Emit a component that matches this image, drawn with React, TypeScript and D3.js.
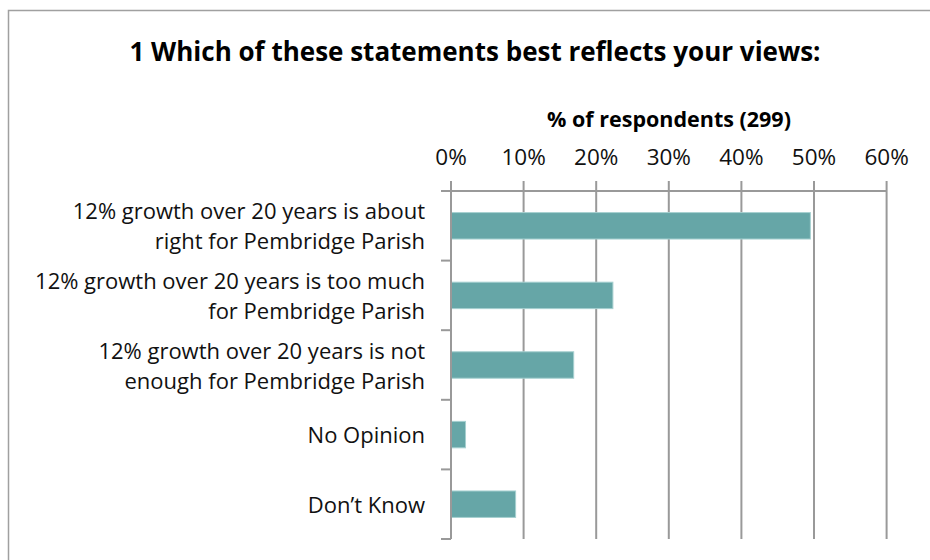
import * as d3 from "d3";
import { useRef, useEffect } from "react";

const categories = [
  ["12% growth over 20 years is about", "right for Pembridge Parish"],
  ["12% growth over 20 years is too much", "for Pembridge Parish"],
  ["12% growth over 20 years is not", "enough for Pembridge Parish"],
  ["No Opinion"],
  ["Don\u2019t Know"],
];
const values = [49.5, 22.3, 16.9, 2.0, 8.9];
const tickValues = [0, 10, 20, 30, 40, 50, 60];

const title = "1 Which of these statements best reflects your views:";
const axisTitle = "% of respondents (299)";

export default function App() {
  const svgRef = useRef();

  useEffect(() => {
    const font = "'Open Sans', sans-serif";
    const svg = d3.select(svgRef.current);
    svg.selectAll("*").remove();

    svg
      .append("rect")
      .attr("x", 8.5)
      .attr("y", 10.5)
      .attr("width", 940)
      .attr("height", 600)
      .attr("fill", "white")
      .attr("stroke", "#a0a0a0")
      .attr("stroke-width", 1.5);

    const left = 451;
    const right = 886.6;
    const top = 191;
    const bottom = 539;

    const x = d3.scaleLinear().domain([0, 60]).range([left, right]);
    const y = d3
      .scaleBand()
      .domain(d3.range(categories.length))
      .range([top, bottom])
      .paddingInner(0.62)
      .paddingOuter(0.31);
    const band = (bottom - top) / categories.length;

    svg
      .append("text")
      .attr("x", 475)
      .attr("y", 61)
      .attr("text-anchor", "middle")
      .attr("font-family", font)
      .attr("font-weight", "bold")
      .attr("font-size", 26)
      .text(title);

    svg
      .append("text")
      .attr("x", 669)
      .attr("y", 127)
      .attr("text-anchor", "middle")
      .attr("font-family", font)
      .attr("font-weight", "bold")
      .attr("font-size", 21.5)
      .text(axisTitle);

    // gridlines + top ticks
    svg
      .append("g")
      .selectAll("line")
      .data(tickValues)
      .enter()
      .append("line")
      .attr("x1", (d) => x(d))
      .attr("x2", (d) => x(d))
      .attr("y1", top - 10)
      .attr("y2", bottom)
      .attr("stroke", "#999")
      .attr("stroke-width", 2);

    svg
      .append("g")
      .selectAll("text")
      .data(tickValues)
      .enter()
      .append("text")
      .attr("x", (d) => x(d))
      .attr("y", 165)
      .attr("text-anchor", "middle")
      .attr("font-family", font)
      .attr("font-size", 22.5)
      .attr("fill", "#111")
      .text((d) => d + "%");

    // top axis line
    svg
      .append("line")
      .attr("x1", left - 10)
      .attr("x2", right)
      .attr("y1", top)
      .attr("y2", top)
      .attr("stroke", "#999")
      .attr("stroke-width", 2);

    // left category ticks
    svg
      .append("g")
      .selectAll("line")
      .data(d3.range(categories.length + 1))
      .enter()
      .append("line")
      .attr("x1", left - 10)
      .attr("x2", left)
      .attr("y1", (i) => top + i * band)
      .attr("y2", (i) => top + i * band)
      .attr("stroke", "#999")
      .attr("stroke-width", 2);

    svg
      .append("g")
      .selectAll("rect")
      .data(values)
      .enter()
      .append("rect")
      .attr("x", x(0))
      .attr("y", (d, i) => y(i))
      .attr("width", (d) => x(d) - x(0))
      .attr("height", y.bandwidth())
      .attr("fill", "#66a6a7")
      .attr("stroke", "#a6d0d0")
      .attr("stroke-width", 1);

    // category labels
    const labels = svg
      .append("g")
      .selectAll("text")
      .data(categories)
      .enter()
      .append("text")
      .attr("text-anchor", "end")
      .attr("font-family", font)
      .attr("font-size", 22)
      .attr("fill", "#111");

    labels.each(function (lines, i) {
      const cy = top + (i + 0.5) * band;
      const lh = 30;
      const start = cy - ((lines.length - 1) * lh) / 2 + 8.5;
      d3.select(this)
        .selectAll("tspan")
        .data(lines)
        .enter()
        .append("tspan")
        .attr("x", 425)
        .attr("y", (d, j) => start + j * lh)
        .text((d) => d);
    });

    // left axis line
    svg
      .append("line")
      .attr("x1", left)
      .attr("x2", left)
      .attr("y1", top)
      .attr("y2", bottom)
      .attr("stroke", "#999")
      .attr("stroke-width", 2);
  }, []);

  return (
    <svg
      ref={svgRef}
      width={930}
      height={560}
      style={{ position: "absolute", left: 0, top: 0 }}
    ></svg>
  );
}
